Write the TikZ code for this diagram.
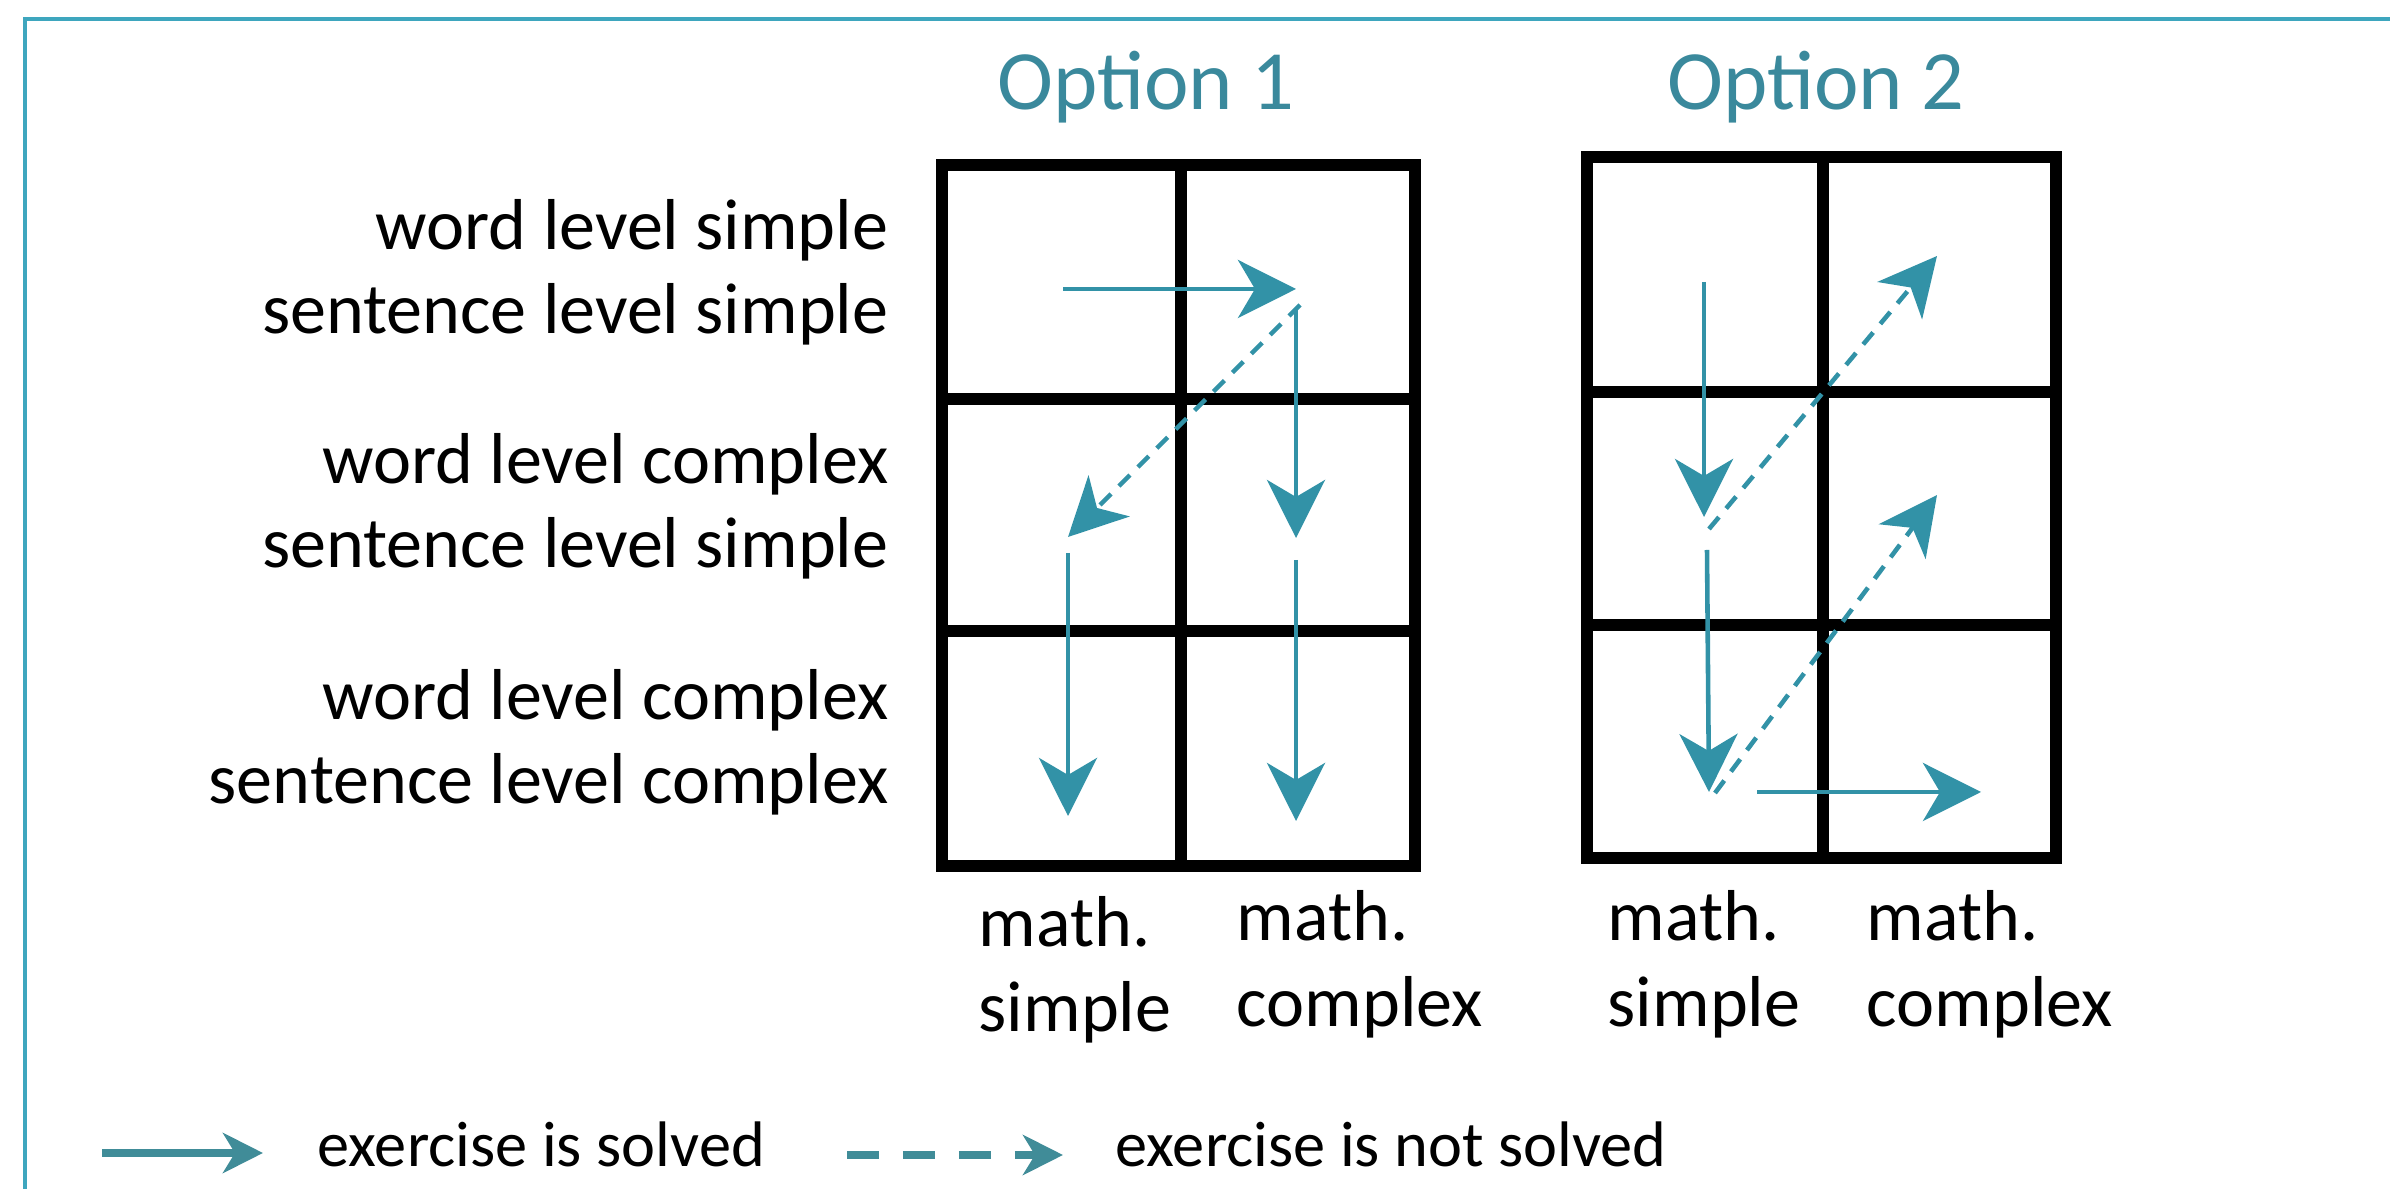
\documentclass[tikz,border=0pt]{standalone}
\usepackage{fontspec}
\setmainfont{Carlito}
\usetikzlibrary{arrows.meta}
\definecolor{frameteal}{RGB}{62,166,190}
\definecolor{titleteal}{RGB}{58,137,156}
\definecolor{arrowteal}{RGB}{50,146,167}
\definecolor{keyteal}{RGB}{64,140,152}
\tikzset{
  gridln/.style={line width=3.5pt, black, line join=miter},
  solved/.style={-{Stealth[length=5.8mm,width=5.8mm,inset=1.7mm]}, line width=1.3pt, arrowteal},
  notsolved/.style={solved, dash pattern=on 4.4pt off 3.2pt},
  keysolved/.style={-{Stealth[length=4mm,width=4mm,inset=1.2mm]}, line width=2pt, keyteal},
  keynotsolved/.style={keysolved, dash pattern=on 9.1pt off 6.8pt},
  titlelbl/.style={anchor=base, inner sep=0pt, titleteal, font=\fontsize{24pt}{29pt}\selectfont},
  rowlbl/.style={anchor=base east, inner sep=0pt, font=\fontsize{20.5pt}{24pt}\selectfont},
  collbl/.style={anchor=base west, inner sep=0pt, font=\fontsize{20.5pt}{24pt}\selectfont},
  keylbl/.style={anchor=base west, inner sep=0pt, font=\fontsize{18.3pt}{22pt}\selectfont},
}

\begin{document}
\begin{tikzpicture}[x=0.01cm, y=-0.01cm]
  \useasboundingbox (0,0) rectangle (2390,1189);
  % frame
  \draw[frameteal, line width=0.9pt] (25,1189) -- (25,19) -- (2390,19);
  % titles
  \node[titlelbl] (opt1) at (1146,110) {Option 1};
  \node[titlelbl] (opt2) at (1816,110) {Option 2};
  % row labels
  \foreach \i/\yb/\txt in {1/250/word level simple, 2/334/sentence level simple,
      3/484/word level complex, 4/568/sentence level simple,
      5/720/word level complex, 6/804/sentence level complex} {
    \node[rowlbl] (row\i) at (889,\yb) {\txt};
  }
  % the two grids
  \draw[gridln] (942,165) rectangle (1415,866);
  \draw[gridln] (1181,165) -- (1181,866);
  \draw[gridln] (942,399) -- (1415,399) (942,631) -- (1415,631);
  \draw[gridln] (1587,157) rectangle (2056,858);
  \draw[gridln] (1823,157) -- (1823,858);
  \draw[gridln] (1587,392) -- (2056,392) (1587,625) -- (2056,625);
  % column labels
  \foreach \n/\x/\ya/\yb/\txt in {a/978/947/1032/simple, b/1236/941/1027/complex,
      c/1607/941/1027/simple, d/1866/941/1027/complex} {
    \node[collbl] (col\n-1) at (\x,\ya) {math.};
    \node[collbl] (col\n-2) at (\x,\yb) {\txt};
  }
  % option 1 path points
  \coordinate (p1) at (1063,289);
  \coordinate (p2) at (1296,289);
  \coordinate (p3) at (1300,305);
  \coordinate (p4) at (1068,537);
  \coordinate (p5) at (1296,308);
  \coordinate (p6) at (1296,538);
  \coordinate (p7) at (1068,553);
  \coordinate (p8) at (1068,816);
  \coordinate (p9) at (1296,560);
  \coordinate (p10) at (1296,821);
  \draw[solved] (p1) -- (p2);
  \draw[notsolved] (p3) -- (p4);
  \draw[solved] (p5) -- (p6);
  \draw[solved] (p7) -- (p8);
  \draw[solved] (p9) -- (p10);
  % option 2 path points
  \coordinate (q1) at (1704,282);
  \coordinate (q2) at (1704,517);
  \coordinate (q3) at (1709,529);
  \coordinate (q4) at (1937,256);
  \coordinate (q5) at (1707,550);
  \coordinate (q6) at (1709,792);
  \coordinate (q7) at (1715,793);
  \coordinate (q8) at (1937,495);
  \coordinate (q9) at (1757,792);
  \coordinate (q10) at (1981,792);
  \draw[solved] (q1) -- (q2);
  \draw[notsolved] (q3) -- (q4);
  \draw[solved] (q5) -- (q6);
  \draw[notsolved] (q7) -- (q8);
  \draw[solved] (q9) -- (q10);
  % legend
  \coordinate (k1) at (102,1153);
  \coordinate (k2) at (263,1153);
  \coordinate (k3) at (847,1155);
  \coordinate (k4) at (1063,1155);
  \draw[keysolved] (k1) -- (k2);
  \draw[keynotsolved] (k3) -- (k4);
  \node[keylbl] (key1) at (317,1167) {exercise is solved};
  \node[keylbl] (key2) at (1115,1167) {exercise is not solved};
\end{tikzpicture}
\end{document}
